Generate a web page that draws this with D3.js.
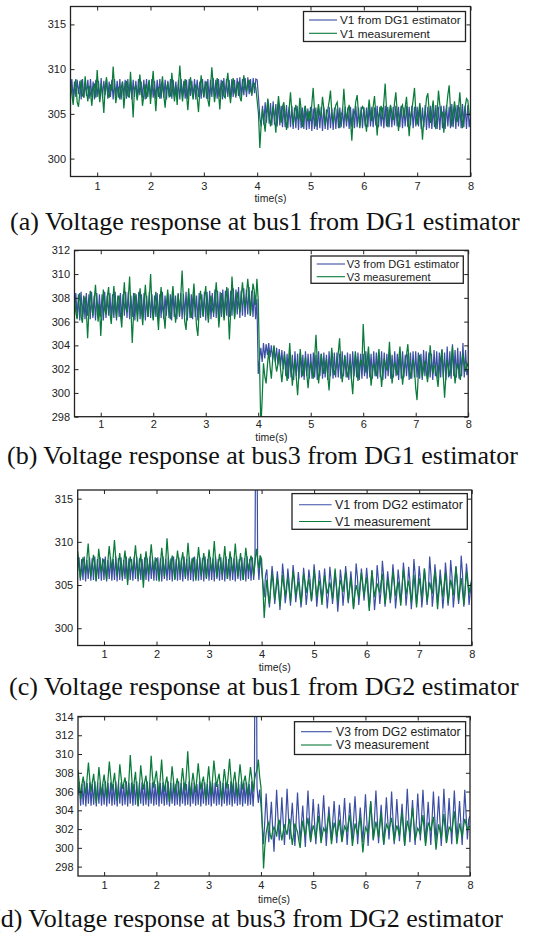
<!DOCTYPE html>
<html>
<head>
<meta charset="utf-8">
<style>
  body { margin: 0; background: #fff; }
  svg { display: block; }
  .tick text { font-family: "Liberation Sans", Arial, sans-serif; font-size: 11px; fill: #222; }
  .tick line { stroke: #222; }
</style>
</head>
<body>
<div id="chart"></div>
<script src="https://cdn.jsdelivr.net/npm/d3@7"></script>
<script>
// sampling grid of the recorded signals (seconds)
var t0 = 0.5, dt = 0.025;

var xTicks = [1, 2, 3, 4, 5, 6, 7, 8];
var yTicksA = [300, 305, 310, 315];
var yTicksB = [298, 300, 302, 304, 306, 308, 310, 312];
var yTicksC = [300, 305, 310, 315];
var yTicksD = [298, 300, 302, 304, 306, 308, 310, 312, 314];

var legendA = ["V1 from DG1 estimator", "V1 measurement"];
var legendB = ["V3 from DG1 estimator", "V3 measurement"];
var legendC = ["V1 from DG2 estimator", "V1 measurement"];
var legendD = ["V3 from DG2 estimator", "V3 measurement"];

var captionA = "(a) Voltage response at bus1 from DG1 estimator";
var captionB = "(b) Voltage response at bus3 from DG1 estimator";
var captionC = "(c) Voltage response at bus1 from DG2 estimator";
var captionD = "(d) Voltage response at bus3 from DG2 estimator";

// (a) V1: DG1 estimator and measurement, one row = 0.5 s
var estA = [
  307.4,308.9,306.7,308.6,306.9,308.8,307.2,308.7,306.6,308.9,306.8,308.5,307.0,308.8,306.7,308.9,306.9,308.6,306.6,308.8,
  306.9,308.7,306.6,309.0,306.8,308.7,307.1,308.9,306.7,308.6,306.9,308.8,306.6,308.9,307.0,308.7,306.8,308.9,306.6,308.6,
  307.0,308.8,306.7,308.9,306.8,308.6,306.6,308.8,306.9,308.7,306.7,308.9,307.1,308.6,306.8,308.8,306.6,308.9,306.9,308.7,
  306.7,308.9,306.8,308.7,306.6,308.8,306.9,308.9,306.7,308.6,306.8,308.8,306.6,308.7,307.0,308.9,306.7,308.8,306.9,308.6,
  306.8,308.8,306.6,308.9,306.9,308.7,306.7,308.8,306.6,308.9,307.0,308.7,306.8,308.9,306.6,308.8,306.9,308.6,306.7,308.9,
  306.8,308.7,306.7,308.9,306.6,308.8,306.9,309.0,306.8,308.8,306.7,308.9,306.9,308.8,306.6,309.0,306.8,308.9,306.9,308.8,
  306.7,308.9,306.9,308.8,306.8,309.0,307.0,309.1,306.9,308.9,307.1,309.0,306.9,309.1,307.2,308.9,307.0,309.0,307.3,308.9,
  308.8,306.8,304.6,303.6,305.9,303.8,306.3,304.0,306.5,303.9,306.2,303.7,306.4,303.8,306.1,303.6,306.3,303.7,305.9,303.5,
  305.9,303.5,306.0,303.4,305.8,303.5,305.9,303.3,305.7,303.4,305.9,303.2,305.8,303.4,305.7,303.3,305.9,303.2,305.6,303.3,
  305.8,303.1,305.6,303.3,305.7,303.2,305.6,303.4,305.8,303.1,305.7,303.3,305.5,303.2,305.8,303.4,305.6,303.2,305.7,303.3,
  305.6,303.4,305.7,303.5,305.6,303.4,305.8,303.6,305.7,303.3,305.8,303.5,305.6,303.4,305.9,303.5,305.7,303.6,305.8,303.4,
  305.8,303.6,305.7,303.5,305.9,303.6,305.8,303.5,305.7,303.7,305.9,303.5,305.8,303.6,305.7,303.4,305.9,303.6,305.8,303.5,
  305.9,303.5,305.8,303.7,305.9,303.6,305.8,303.5,305.9,303.4,305.7,303.6,305.9,303.5,305.8,303.7,305.9,303.4,305.8,303.6,
  305.8,303.6,305.9,303.3,305.7,303.5,306.0,303.2,305.8,303.4,305.9,303.3,305.7,303.5,306.0,303.3,305.8,303.2,305.9,303.4,
  305.9,303.3,306.0,303.6,305.8,303.4,306.1,303.5,305.9,303.3,306.0,303.6,305.8,303.4,306.1,303.5,305.9,303.3,306.0,303.5,
  304.8];
var measA = [
  308.6,307.2,306.0,307.8,308.9,306.3,305.8,307.4,308.8,307.0,306.9,309.2,307.5,306.4,308.1,307.3,305.9,307.7,308.4,306.8,
  309.9,307.6,306.3,308.4,307.1,305.1,307.9,309.1,307.2,306.8,308.3,307.6,310.3,308.0,306.2,307.5,308.0,306.6,307.9,308.6,
  305.6,307.4,308.7,307.0,306.9,309.7,307.3,304.6,307.8,308.2,306.5,307.6,309.4,307.8,305.9,307.1,308.3,306.7,307.9,308.8,
  306.1,308.0,309.8,307.4,305.3,307.6,308.0,306.7,307.9,309.2,307.0,305.7,307.8,308.5,306.9,307.0,309.6,307.7,306.4,308.1,
  306.0,308.3,310.4,308.1,306.4,307.9,308.9,307.2,305.4,307.4,309.1,307.6,306.6,307.9,308.2,306.8,305.2,307.6,309.3,307.9,
  306.9,308.0,308.6,306.6,305.8,307.9,310.2,308.3,306.3,307.5,309.0,307.4,305.5,307.8,308.7,307.0,306.8,308.4,309.6,307.6,
  306.2,307.8,309.0,307.5,307.0,308.1,308.6,306.9,306.4,308.0,309.3,308.1,307.5,308.4,308.8,307.6,307.2,308.3,308.4,307.9,
  306.5,305.0,301.2,303.8,305.5,304.2,303.0,305.1,306.7,305.0,303.6,304.8,305.9,304.6,302.9,305.2,307.0,305.4,304.0,305.8,
  306.3,304.9,303.2,304.8,305.6,307.4,305.2,303.8,305.1,306.0,304.7,304.4,306.8,305.5,303.5,304.9,305.9,305.0,304.2,305.3,
  304.2,306.1,307.9,305.4,303.6,305.0,306.1,304.8,304.8,306.9,305.6,303.7,304.9,305.5,306.4,307.6,305.1,304.0,305.2,306.0,
  306.3,304.8,303.4,305.0,305.2,307.8,305.6,304.1,305.4,306.0,304.3,302.0,304.6,305.1,306.4,307.1,305.0,303.4,305.3,305.8,
  305.5,304.2,303.0,305.1,306.6,305.0,304.2,305.8,307.0,304.9,302.6,304.7,305.3,305.9,304.4,306.3,308.4,305.6,303.5,305.0,
  306.0,305.1,304.3,306.2,307.4,305.3,303.1,304.8,305.7,306.0,304.6,305.7,306.9,304.8,302.5,304.6,305.4,306.6,307.9,305.2,
  303.8,305.0,306.2,304.5,302.1,304.4,305.0,306.8,307.3,305.4,304.0,305.3,306.5,304.7,303.3,305.2,307.6,306.0,304.8,305.1,
  302.9,304.8,305.6,307.1,308.2,305.5,303.6,305.0,306.4,305.2,304.1,305.6,307.4,305.3,303.4,304.9,305.8,306.7,306.5,305.0,
  304.7];

// (b) V3: DG1 estimator and measurement
var estB = [
  307.0,308.4,306.3,308.3,306.1,308.5,306.4,308.2,306.2,308.4,306.5,308.3,306.2,308.5,306.3,308.2,306.1,308.4,306.4,308.3,
  306.4,308.3,306.1,308.5,306.3,308.2,306.5,308.4,306.2,308.3,306.3,308.5,306.1,308.2,306.4,308.4,306.2,308.3,306.5,308.5,
  306.3,308.5,306.2,308.2,306.4,308.4,306.1,308.3,306.5,308.5,306.2,308.3,306.3,308.4,306.1,308.2,306.4,308.5,306.3,308.3,
  306.2,308.2,306.4,308.4,306.1,308.3,306.3,308.5,306.2,308.2,306.5,308.4,306.3,308.3,306.1,308.5,306.4,308.2,306.2,308.4,
  306.4,308.4,306.2,308.3,306.5,308.5,306.1,308.4,306.3,308.3,306.2,308.5,306.4,308.2,306.1,308.4,306.3,308.3,306.5,308.5,
  306.1,308.5,306.3,308.6,306.2,308.4,306.4,308.7,306.3,308.6,306.2,308.5,306.4,308.7,306.3,308.6,306.5,308.8,306.4,308.6,
  306.5,308.8,306.4,308.7,306.6,308.9,306.3,308.6,306.5,308.8,306.4,308.7,306.6,308.9,306.5,308.6,306.4,308.5,306.2,307.9,
  301.6,302.8,303.8,302.6,304.2,302.9,304.1,303.2,304.2,303.0,304.0,302.8,303.9,302.6,303.8,302.4,303.7,302.2,303.6,302.0,
  303.5,301.4,303.3,301.2,303.4,301.3,303.2,301.1,303.5,301.4,303.3,301.2,303.4,301.3,303.2,301.1,303.5,301.4,303.3,301.2,
  303.3,301.2,303.4,301.3,303.2,301.1,303.5,301.4,303.3,301.2,303.4,301.3,303.2,301.1,303.5,301.4,303.3,301.2,303.4,301.3,
  303.4,301.3,303.3,301.2,303.5,301.4,303.2,301.3,303.4,301.1,303.3,301.2,303.5,301.4,303.2,301.3,303.4,301.1,303.3,301.2,
  303.3,301.4,303.5,301.2,303.4,301.3,303.3,301.2,303.5,301.4,303.4,301.2,303.3,301.3,303.5,301.1,303.4,301.2,303.3,301.4,
  303.4,301.2,303.2,301.3,303.5,301.4,303.3,301.1,303.4,301.2,303.5,301.3,303.2,301.4,303.3,301.1,303.4,301.2,303.5,301.3,
  303.5,301.3,303.4,301.2,303.3,301.1,303.6,301.4,303.5,301.2,303.4,301.3,303.3,301.1,303.6,301.4,303.5,301.2,303.4,301.3,
  303.7,301.3,303.4,301.1,303.9,301.3,303.5,301.2,304.1,301.4,303.6,301.3,303.8,301.2,303.5,301.4,304.2,301.3,303.6,301.5,
  302.0];
var measB = [
  307.9,306.8,306.2,307.6,308.4,306.5,305.9,307.3,308.1,307.0,304.6,306.9,308.6,307.4,306.5,307.8,309.1,307.2,306.0,307.5,
  304.8,306.9,308.7,307.0,306.6,308.1,308.9,306.7,305.8,307.4,309.0,307.3,306.3,307.9,308.2,306.6,305.5,307.8,309.3,307.2,
  306.8,308.0,309.8,307.1,304.2,306.6,308.4,307.5,306.0,307.8,308.8,306.9,305.7,307.6,309.1,307.4,306.4,308.0,310.0,307.3,
  306.1,307.4,308.5,306.8,305.3,307.6,308.9,307.2,306.6,305.4,307.4,308.7,307.1,306.2,307.8,309.0,307.5,305.9,307.1,308.3,
  306.5,308.2,310.3,307.8,306.0,305.3,307.2,308.8,307.0,306.3,307.8,309.2,307.4,305.6,304.8,307.0,308.6,307.5,306.4,307.9,
  309.0,307.2,305.9,307.4,308.2,307.1,306.7,307.9,309.3,307.6,305.5,307.0,308.4,307.3,306.1,307.6,308.9,307.2,304.5,306.8,
  309.8,308.0,306.2,307.5,308.5,307.6,306.8,308.1,309.3,307.9,307.2,308.2,309.6,308.4,306.5,307.8,309.2,308.6,307.4,309.6,
  307.8,302.5,297.0,299.5,302.5,301.4,300.8,302.3,303.6,302.2,301.2,302.8,304.0,302.6,301.8,302.4,303.4,302.0,300.9,302.1,
  303.2,302.1,301.0,302.5,304.2,302.3,300.6,301.9,302.8,301.3,299.8,301.6,303.7,302.4,301.4,302.2,303.0,301.6,300.4,301.8,
  302.6,301.8,301.2,303.0,304.9,302.7,300.8,302.0,303.3,302.4,301.6,302.3,302.9,301.4,300.2,302.1,303.8,302.6,301.5,302.0,
  302.4,303.4,304.6,302.3,300.9,302.0,303.1,302.2,301.3,302.0,302.7,301.2,299.9,301.9,303.5,302.4,301.0,302.1,302.8,302.2,
  305.8,303.5,301.7,302.7,303.9,302.2,300.6,301.8,302.5,301.9,301.4,302.6,303.7,302.1,300.5,301.9,302.9,302.3,301.9,302.5,
  304.3,302.4,300.8,301.9,302.6,302.0,301.5,302.7,303.9,302.3,300.7,301.8,302.4,303.2,304.1,302.5,301.2,302.0,302.8,302.1,
  300.4,299.4,301.6,303.2,302.4,301.3,302.1,302.7,301.8,300.9,302.0,304.0,302.7,301.6,302.2,302.3,301.4,300.5,302.0,302.9,
  303.6,301.5,299.6,301.4,302.8,302.0,301.4,302.6,303.9,302.2,300.8,301.9,302.5,301.7,301.1,302.4,303.3,302.4,301.8,302.5,
  302.2];

// (c) V1: DG2 estimator and measurement
var estC = [
  306.6,308.2,305.5,308.0,305.6,308.3,305.4,307.9,305.7,308.2,305.5,308.1,305.6,308.3,305.4,308.0,305.7,308.2,305.5,308.1,
  305.6,308.3,305.4,307.9,305.7,308.2,305.5,308.0,305.6,308.3,305.4,308.1,305.6,308.2,305.5,307.9,305.7,308.3,305.4,308.1,
  305.6,308.0,305.5,308.2,305.7,308.3,305.4,308.1,305.6,308.0,305.5,308.2,305.6,308.1,305.4,308.3,305.7,308.0,305.5,308.2,
  305.5,308.2,305.6,308.1,305.4,308.3,305.7,308.0,305.5,308.2,305.6,308.1,305.4,308.3,305.7,308.0,305.5,308.2,305.6,308.1,
  305.4,308.3,305.7,308.0,305.5,308.2,305.6,308.1,305.4,308.3,305.7,308.0,305.5,308.2,305.6,308.1,305.4,308.3,305.7,308.0,
  305.5,308.2,305.6,308.1,305.4,308.3,305.7,308.0,305.5,308.2,305.6,308.1,305.4,308.3,305.7,308.0,305.5,308.2,305.6,308.1,
  305.4,308.3,305.7,308.0,305.5,308.2,305.6,308.1,305.4,308.3,305.7,308.0,305.5,308.2,305.6,308.1,340.0,307.8,305.6,308.4,
  306.9,305.2,303.6,306.1,306.8,303.8,302.4,305.0,307.2,305.6,302.8,304.5,306.6,304.9,302.1,304.3,307.5,305.8,302.9,304.2,
  306.9,305.3,302.6,304.6,307.3,305.7,303.0,304.4,306.5,304.8,302.4,304.0,307.0,305.4,302.7,304.3,306.8,305.5,303.1,304.6,
  307.4,305.6,302.5,304.2,306.7,305.2,303.2,304.8,306.9,304.9,302.3,304.1,307.1,305.5,302.8,304.4,306.4,304.7,301.9,303.8,
  306.8,305.4,302.6,304.4,307.2,305.7,302.9,304.6,306.6,304.8,302.3,304.1,307.5,305.9,302.7,304.5,306.9,305.3,303.2,304.9,
  307.0,305.2,302.4,304.1,306.7,305.0,302.1,303.9,307.3,305.6,302.8,304.4,307.8,306.0,302.5,304.2,306.6,305.1,302.9,304.5,
  307.4,305.6,302.3,304.0,306.8,305.3,303.0,304.7,307.6,305.8,302.6,304.3,307.1,305.4,302.2,304.0,308.0,306.1,302.8,304.4,
  307.2,305.5,302.4,304.1,306.9,305.2,302.7,304.3,308.3,306.2,302.5,304.2,307.4,305.7,302.9,304.5,306.8,305.0,302.3,304.0,
  307.6,305.8,302.6,304.3,307.9,306.0,302.4,304.1,307.2,305.5,302.8,304.4,308.4,306.3,302.5,304.2,307.5,305.7,302.7,304.3,
  305.8];
var measC = [
  308.9,307.4,305.8,307.0,308.2,307.6,306.3,308.1,309.8,307.5,306.0,307.3,308.5,307.2,305.5,307.0,309.2,307.8,306.4,307.6,
  308.0,306.9,305.6,307.8,309.5,307.9,306.8,308.3,310.2,308.0,306.1,307.4,308.7,307.1,305.9,307.6,309.0,307.3,305.0,307.2,
  308.3,307.4,306.5,308.0,309.6,307.7,305.7,307.3,308.6,306.9,304.7,307.1,308.9,307.6,306.2,308.0,309.7,307.9,306.6,307.7,
  308.1,306.8,305.4,307.5,309.3,307.8,306.0,307.6,310.4,308.2,306.7,307.5,308.4,307.0,305.6,307.4,309.0,307.7,306.3,307.8,
  308.8,307.2,305.9,307.8,309.9,307.9,306.4,307.6,308.2,306.9,305.5,307.6,309.4,307.8,306.1,307.5,308.7,307.2,305.8,307.4,
  309.1,307.7,306.5,308.0,310.1,307.8,305.9,307.4,308.6,307.2,306.2,307.8,309.5,307.5,305.7,307.3,308.9,307.6,306.4,307.9,
  309.8,307.7,306.0,307.4,308.7,307.1,305.6,307.5,309.3,307.9,306.6,307.7,308.4,307.5,306.1,307.6,309.2,308.0,306.9,308.4,
  308.0,304.8,301.2,303.6,305.6,304.1,302.8,304.7,306.4,304.8,303.3,304.6,305.8,304.2,302.6,304.5,306.2,304.9,303.7,305.0,
  305.9,304.4,303.1,305.0,306.6,305.2,303.8,304.7,305.4,304.1,302.9,304.8,306.3,305.3,304.1,305.0,305.7,304.4,303.2,304.9,
  306.8,305.1,303.6,304.7,305.5,304.2,302.7,304.5,306.1,305.0,304.0,304.7,305.3,304.4,303.4,305.2,306.9,305.0,303.0,304.6,
  305.6,304.9,304.2,305.4,306.5,304.8,303.1,304.6,305.8,304.0,302.2,303.9,305.0,304.3,303.5,305.1,306.4,305.0,303.8,305.0,
  305.9,304.0,302.0,304.4,306.7,305.1,303.6,304.5,305.2,304.6,304.1,305.3,306.3,304.5,302.8,304.2,305.7,304.6,303.3,305.1,
  306.5,305.2,303.7,304.6,305.4,304.0,302.6,304.8,306.8,305.4,303.9,304.8,305.5,304.3,303.0,304.7,306.2,304.4,302.4,304.3,
  305.8,304.7,303.5,305.2,306.9,305.0,303.1,304.3,305.3,304.6,304.0,305.4,306.6,304.4,302.2,304.1,305.9,304.8,303.6,305.1,
  306.4,304.6,302.9,304.4,305.6,304.8,303.8,305.5,307.1,305.2,303.2,304.6,305.8,304.3,302.7,304.6,306.5,305.3,304.0,305.0,
  305.4];

// (d) V3: DG2 estimator and measurement
var estD = [
  305.6,307.0,304.5,306.8,304.6,307.1,304.4,306.9,304.7,307.0,304.5,306.8,304.6,307.1,304.4,306.9,304.7,307.0,304.5,306.8,
  304.6,307.1,304.4,306.9,304.7,307.0,304.5,306.8,304.6,307.1,304.4,306.9,304.7,307.0,304.5,306.8,304.6,307.1,304.4,306.9,
  304.7,307.0,304.5,306.8,304.6,307.1,304.4,306.9,304.7,307.0,304.5,306.8,304.6,307.1,304.4,306.9,304.7,307.0,304.5,306.8,
  304.6,307.1,304.4,306.9,304.7,307.0,304.5,306.8,304.6,307.1,304.4,306.9,304.7,307.0,304.5,306.8,304.6,307.1,304.4,306.9,
  304.7,307.0,304.5,306.8,304.6,307.1,304.4,306.9,304.7,307.0,304.5,306.8,304.6,307.1,304.4,306.9,304.7,307.0,304.5,306.8,
  304.6,307.1,304.4,306.9,304.7,307.0,304.5,306.8,304.6,307.1,304.4,306.9,304.7,307.0,304.5,306.8,304.6,307.1,304.4,306.9,
  304.7,307.0,304.5,306.8,304.6,307.1,304.4,306.9,304.7,307.0,304.5,306.8,304.6,307.1,304.4,306.9,340.0,306.5,304.8,306.2,
  304.6,302.5,300.4,303.0,305.8,303.2,300.6,302.9,304.9,302.0,299.6,302.8,306.2,303.4,300.8,302.6,305.4,302.9,300.3,303.1,
  306.3,303.5,300.9,302.8,304.8,302.4,300.2,303.0,305.9,303.3,300.7,302.6,304.5,302.2,300.1,303.2,306.1,303.4,300.6,302.7,
  305.2,302.8,300.4,302.5,304.7,302.9,300.9,303.2,305.6,302.9,300.2,302.3,304.4,302.6,300.8,302.9,305.0,302.7,300.5,302.6,
  304.6,302.7,300.7,303.0,305.3,302.8,300.3,302.5,304.8,302.9,300.9,303.2,305.5,303.0,300.4,302.4,304.3,302.5,300.6,303.1,
  305.7,303.0,300.2,302.6,304.9,302.8,300.8,303.4,306.1,303.3,300.5,302.5,304.6,302.4,300.3,302.8,305.4,303.1,300.9,303.0,
  306.0,303.2,300.4,302.6,305.2,302.9,300.7,302.7,304.7,302.5,300.2,303.2,306.3,303.5,300.6,302.8,305.1,302.7,300.3,302.9,
  305.8,303.3,300.8,303.5,306.2,303.4,300.5,302.7,304.9,302.6,300.3,303.1,306.0,303.3,300.7,303.1,305.5,302.8,300.2,302.7,
  306.3,303.5,300.6,302.9,305.3,302.8,300.4,303.2,306.1,303.4,300.8,302.9,305.0,302.6,300.3,303.2,306.2,303.6,300.9,303.0,
  303.4];
var measD = [
  308.3,306.9,305.2,306.8,307.6,306.4,305.8,307.5,309.1,307.3,306.0,307.0,307.9,306.2,304.8,306.7,308.6,307.1,305.5,306.9,
  307.8,306.5,305.3,307.4,309.2,307.6,306.1,307.0,308.0,306.3,305.0,306.8,308.9,307.5,306.3,306.9,307.5,306.2,305.4,307.3,
  309.9,307.8,305.7,307.0,308.1,306.0,304.5,306.6,308.8,307.4,306.2,307.0,307.7,306.3,305.1,307.2,309.8,307.6,306.4,307.4,
  308.2,306.7,305.6,307.5,309.4,307.2,306.0,306.9,307.6,306.2,304.9,306.8,308.7,307.3,305.8,306.7,307.4,306.2,305.3,307.0,
  308.5,307.1,306.1,308.0,310.3,307.7,305.4,306.8,308.0,306.9,305.9,307.4,309.0,307.5,306.2,307.0,307.6,306.3,305.2,307.1,
  308.7,307.0,305.6,307.4,309.3,307.8,306.5,307.3,307.9,306.4,305.1,306.9,308.4,307.2,306.3,307.8,309.5,307.6,305.8,307.1,
  308.1,306.7,305.4,307.3,308.9,307.5,306.2,307.1,307.7,306.5,305.6,307.2,308.6,307.4,306.0,307.2,307.9,308.3,309.4,307.6,
  306.5,302.4,297.8,300.2,301.6,302.4,302.7,301.5,300.9,301.8,302.2,301.9,301.2,302.4,303.0,301.8,300.8,301.7,302.5,301.9,
  301.4,302.5,303.1,301.6,300.3,301.5,302.6,302.1,301.7,300.8,300.0,301.6,302.9,302.0,301.3,302.4,303.2,301.8,300.7,301.6,
  302.4,301.9,301.0,302.3,303.4,302.0,300.5,301.4,302.1,301.8,301.6,302.7,303.6,301.9,300.4,301.6,302.7,302.1,301.2,302.0,
  303.0,301.8,300.6,301.5,302.3,302.0,301.8,302.8,303.5,301.9,300.2,301.3,302.6,302.0,301.4,302.5,303.3,301.4,299.5,301.0,
  302.2,301.9,301.5,303.2,305.0,302.9,300.9,301.8,302.8,302.0,301.1,302.5,303.7,301.8,300.4,301.5,302.5,302.2,301.9,302.6,
  303.2,301.9,300.7,301.6,302.4,301.9,301.3,302.6,303.8,302.0,300.3,301.6,302.9,302.2,301.6,302.9,304.3,302.5,300.8,301.5,
  302.1,301.8,301.4,302.5,303.5,301.8,300.2,301.5,302.7,302.3,301.8,302.6,303.3,301.5,299.8,301.2,302.5,301.8,301.0,302.3,
  303.6,301.9,300.5,301.4,302.2,302.0,301.7,302.8,303.9,302.1,300.4,301.5,302.6,301.9,301.2,302.2,303.1,302.5,301.9,302.2,
  302.3];

var blueColor = "#3a4ea3",
    greenColor = "#0b7b3b";

var width = 537, height = 938;

// layout of each sub-figure (pixels)
var panels = [
  { est: estA, meas: measA, names: legendA, caption: captionA, yTicks: yTicksA, yDomain: [298, 317],
    x0: 70.5, x1: 470.5, y0: 6.5, y1: 176.5, xPad: 5.5, xlabY: 201.5, capX: 10, capY: 229.5,
    leg: { x0: 303.5, x1: 465.5, y0: 11.5, y1: 41.5, l0: 309, l1: 337, tx: 340, r1: 20, r2: 33.3, fs: 11.8 } },
  { est: estB, meas: measB, names: legendB, caption: captionB, yTicks: yTicksB, yDomain: [298, 312],
    x0: 74.5, x1: 468.2, y0: 250.3, y1: 416.7, xPad: 4, xlabY: 440.5, capX: 7, capY: 464,
    leg: { x0: 311, x1: 463.3, y0: 256, y1: 283.3, l0: 316.7, l1: 345, tx: 346.7, r1: 264, r2: 276.7, fs: 11 } },
  { est: estC, meas: measC, names: legendC, caption: captionC, yTicks: yTicksC, yDomain: [298, 316],
    x0: 77.7, x1: 471.7, y0: 490, y1: 645.5, xPad: 5, xlabY: 670.5, capX: 9, capY: 694.5,
    leg: { x0: 292, x1: 467.3, y0: 493.6, y1: 529.3, l0: 299, l1: 331.6, tx: 335, r1: 504.7, r2: 521.5, fs: 12.5 } },
  { est: estD, meas: measD, names: legendD, caption: captionD, yTicks: yTicksD, yDomain: [297, 314],
    x0: 78, x1: 470, y0: 716.5, y1: 876, xPad: 5.5, xlabY: 902.5, capX: -8, capY: 927,
    leg: { x0: 294.5, x1: 465.6, y0: 721.7, y1: 754.5, l0: 301, l1: 331.7, tx: 336, r1: 731.7, r2: 745, fs: 12.2 } }
];

var svg = d3.select("#chart").append("svg")
    .attr("width", width)
    .attr("height", height);

var defs = svg.append("defs");

panels.forEach(function(p, k) {
    var x = d3.scaleLinear().domain([0.5, 8]).range([p.x0, p.x1]);
    var y = d3.scaleLinear().domain(p.yDomain).range([p.y1, p.y0]);

    defs.append("clipPath").attr("id", "clip" + k)
        .append("rect")
        .attr("x", p.x0).attr("y", p.y0)
        .attr("width", p.x1 - p.x0).attr("height", p.y1 - p.y0);

    var g = svg.append("g");

    var line = d3.line()
        .x(function(d, i) { return x(t0 + i * dt); })
        .y(function(d) { return y(d); });

    var plot = g.append("g").attr("clip-path", "url(#clip" + k + ")");
    plot.append("path")
        .datum(p.est)
        .attr("d", line)
        .attr("fill", "none")
        .attr("stroke", blueColor)
        .attr("stroke-width", 1.2);
    plot.append("path")
        .datum(p.meas)
        .attr("d", line)
        .attr("fill", "none")
        .attr("stroke", greenColor)
        .attr("stroke-width", 1.25);

    // MATLAB style inward ticks on all four sides
    var xb = g.append("g").attr("transform", "translate(0," + p.y1 + ")")
        .call(d3.axisBottom(x).tickValues(xTicks).tickSize(-4).tickPadding(p.xPad).tickFormat(d3.format("d")));
    var xt = g.append("g").attr("transform", "translate(0," + p.y0 + ")")
        .call(d3.axisTop(x).tickValues(xTicks).tickSize(-4).tickFormat(""));
    var yl = g.append("g").attr("transform", "translate(" + p.x0 + ",0)")
        .call(d3.axisLeft(y).tickValues(p.yTicks).tickSize(-4).tickPadding(4.5).tickFormat(d3.format("d")));
    var yr = g.append("g").attr("transform", "translate(" + p.x1 + ",0)")
        .call(d3.axisRight(y).tickValues(p.yTicks).tickSize(-4).tickFormat(""));
    [xb, xt, yl, yr].forEach(function(a) { a.select(".domain").remove(); });

    g.append("rect")
        .attr("x", p.x0).attr("y", p.y0)
        .attr("width", p.x1 - p.x0).attr("height", p.y1 - p.y0)
        .attr("fill", "none")
        .attr("stroke", "#222")
        .attr("stroke-width", 1.3);

    g.append("text")
        .attr("x", (p.x0 + p.x1) / 2)
        .attr("y", p.xlabY)
        .attr("text-anchor", "middle")
        .style("font-family", "'Liberation Sans', Arial, sans-serif")
        .style("font-size", "10.5px")
        .style("fill", "#222")
        .text("time(s)");

    // legend
    var L = p.leg;
    g.append("rect")
        .attr("x", L.x0).attr("y", L.y0)
        .attr("width", L.x1 - L.x0).attr("height", L.y1 - L.y0)
        .attr("fill", "#fff")
        .attr("stroke", "#222")
        .attr("stroke-width", 1.3);
    [[blueColor, L.r1, p.names[0]], [greenColor, L.r2, p.names[1]]].forEach(function(e) {
        g.append("line")
            .attr("x1", L.l0).attr("x2", L.l1)
            .attr("y1", e[1]).attr("y2", e[1])
            .attr("stroke", e[0])
            .attr("stroke-width", 1.1);
        g.append("text")
            .attr("x", L.tx)
            .attr("y", e[1] + L.fs * 0.36)
            .style("font-family", "'Liberation Sans', Arial, sans-serif")
            .style("font-size", L.fs + "px")
            .style("fill", "#222")
            .text(e[2]);
    });

    svg.append("text")
        .attr("x", p.capX)
        .attr("y", p.capY)
        .style("font-family", "'Liberation Serif', 'Times New Roman', serif")
        .style("font-size", "26px")
        .style("fill", "#111")
        .text(p.caption);
});
</script>
</body>
</html>
